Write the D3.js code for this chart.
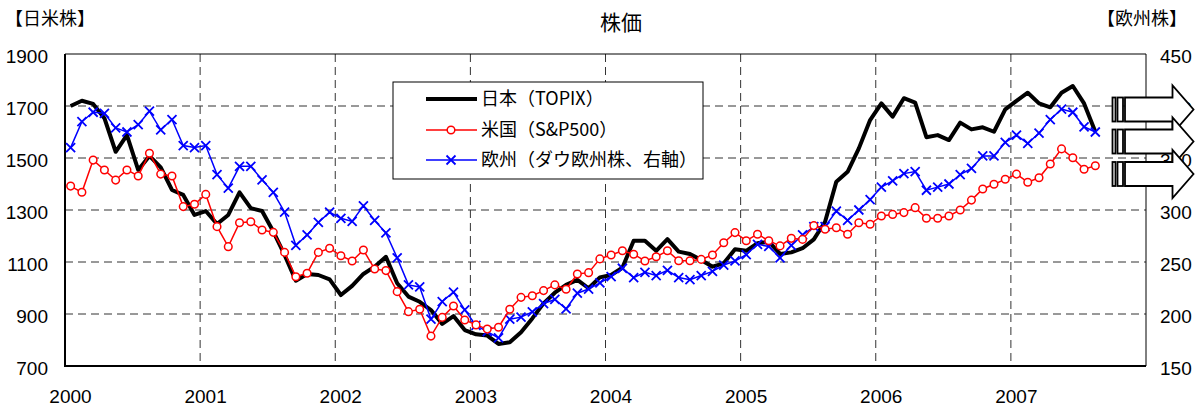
<!DOCTYPE html>
<html>
<head>
<meta charset="utf-8">
<title>株価</title>
<style>
  html, body { margin: 0; padding: 0; background: #fff; }
  svg { display: block; font-family: "Noto Sans CJK JP", "Noto Sans", sans-serif; }
</style>
</head>
<body>
<div id="chart"></div>
<script src="https://d3js.org/d3.v7.min.js"></script>
<script>
// 月末値 2000年1月〜2007年8月
const topix = [
  1700, 1720, 1708, 1653, 1524, 1588, 1454, 1508, 1464, 1377, 1358, 1281,
  1296, 1246, 1281, 1368, 1307, 1296, 1217, 1127, 1028, 1054, 1050, 1033,
  973, 1008, 1054, 1082, 1120, 1018, 967, 947, 915, 862, 892, 838,
  822, 817, 785, 791, 830, 883, 941, 982, 1012, 1031, 999, 1041,
  1050, 1078, 1182, 1182, 1143, 1188, 1140, 1131, 1108, 1082, 1095, 1149,
  1143, 1172, 1178, 1131, 1137, 1153, 1187, 1255, 1409, 1447, 1537, 1646,
  1710, 1659, 1730, 1713, 1580, 1588, 1569, 1636, 1610, 1618, 1601, 1687,
  1720, 1751, 1710, 1695, 1751, 1777, 1710, 1601
];
const sp500 = [
  1392, 1368, 1492, 1454, 1415, 1454, 1431, 1518, 1438, 1431, 1313, 1322,
  1360, 1236, 1159, 1251, 1255, 1223, 1214, 1137, 1043, 1057, 1137, 1153,
  1124, 1104, 1146, 1073, 1067, 986, 909, 918, 815, 887, 931, 877,
  858, 842, 849, 918, 964, 970, 990, 1012, 995, 1054, 1059, 1112,
  1127, 1143, 1130, 1104, 1120, 1143, 1105, 1105, 1110, 1127, 1174, 1213,
  1182, 1207, 1182, 1162, 1191, 1187, 1240, 1226, 1232, 1207, 1251, 1245,
  1277, 1283, 1290, 1309, 1268, 1268, 1277, 1300, 1338, 1381, 1399, 1418,
  1438, 1407, 1424, 1477, 1535, 1501, 1457, 1470
];
const europe = [
  360, 385, 394, 393, 379, 375, 382, 395, 377, 387, 362, 360,
  362, 334, 321, 342, 342, 329, 317, 298, 266, 276, 288, 298,
  292, 289, 304, 290, 278, 254, 228, 226, 195, 212, 221, 204,
  189, 183, 177, 195, 197, 202, 210, 214, 205, 220, 224, 230,
  236, 244, 235, 240, 237, 242, 235, 233, 237, 241, 247, 251,
  257, 267, 265, 254, 266, 276, 284, 284, 299, 290, 300, 310,
  322, 328, 335, 337, 319, 322, 325, 334, 340, 352, 352, 365,
  372, 364, 374, 387, 397, 394, 380, 375
];

const years = [2000, 2001, 2002, 2003, 2004, 2005, 2006, 2007];
const leftTicks = [700, 900, 1100, 1300, 1500, 1700, 1900];
const rightTicks = [150, 200, 250, 300, 350, 400, 450];
const legendLabels = ["日本（TOPIX）", "米国（S&P500）", "欧州（ダウ欧州株、右軸）"];

const width = 1203, height = 409;
const plotL = 65, plotR = 1146, plotT = 54, plotB = 366;

// 月の中央に配置
const monthPos = i => 2000 + (i + 0.5) / 12;

const x = d3.scaleLinear().domain([2000, 2008]).range([plotL, plotR]);
const yL = d3.scaleLinear().domain([700, 1900]).range([plotB, plotT]);
const yR = d3.scaleLinear().domain([150, 450]).range([plotB, plotT]);

const svg = d3.select('#chart').append('svg')
  .attr('width', width).attr('height', height);

// グリッド線
const grid = svg.append('g')
  .attr('stroke', '#333').attr('stroke-width', 1).attr('stroke-dasharray', '8,5');
grid.selectAll('line.h')
  .data(leftTicks.filter(v => v > 700 && v < 1900))
  .enter().append('line')
  .attr('x1', plotL).attr('x2', plotR)
  .attr('y1', d => yL(d)).attr('y2', d => yL(d));
grid.selectAll('line.v')
  .data(years.filter(v => v > 2000))
  .enter().append('line')
  .attr('y1', plotT).attr('y2', plotB)
  .attr('x1', d => x(d)).attr('x2', d => x(d));

// 枠
svg.append('line').attr('x1', plotL).attr('x2', plotR).attr('y1', plotT).attr('y2', plotT)
  .attr('stroke', '#000').attr('stroke-width', 1);
svg.append('line').attr('x1', plotR).attr('x2', plotR).attr('y1', plotT).attr('y2', plotB)
  .attr('stroke', '#000').attr('stroke-width', 1);

// 軸
const fmt = d3.format('d');
const axisLeft = svg.append('g')
  .attr('transform', `translate(${plotL},0)`)
  .call(d3.axisLeft(yL).tickValues(leftTicks).tickFormat(fmt).tickSize(0).tickPadding(17));
const axisRight = svg.append('g')
  .attr('transform', `translate(${plotR},0)`)
  .call(d3.axisRight(yR).tickValues(rightTicks).tickFormat(fmt).tickSize(0).tickPadding(14));
const axisBottom = svg.append('g')
  .attr('transform', `translate(0,${plotB})`)
  .call(d3.axisBottom(x).tickValues(years).tickFormat(fmt).tickSize(0).tickPadding(24));

[axisLeft, axisRight, axisBottom].forEach(a => {
  a.select('.domain').remove();
  a.selectAll('text')
    .style('font-family', '"Liberation Sans", Arial, sans-serif')
    .style('font-size', '19px')
    .attr('fill', '#000');
});
axisLeft.selectAll('text').attr('y', 2);
axisRight.selectAll('text').attr('y', 2);
axisBottom.selectAll('text').attr('dx', 5);

svg.append('line').attr('x1', plotL).attr('x2', plotL).attr('y1', plotT).attr('y2', plotB + 1)
  .attr('stroke', '#000').attr('stroke-width', 2);
svg.append('line').attr('x1', plotL).attr('x2', plotR).attr('y1', plotB).attr('y2', plotB)
  .attr('stroke', '#000').attr('stroke-width', 2);

// 系列
const lineL = d3.line().x((d, i) => x(monthPos(i))).y(d => yL(d));
const lineR = d3.line().x((d, i) => x(monthPos(i))).y(d => yR(d));

svg.append('path').datum(topix)
  .attr('d', lineL).attr('fill', 'none')
  .attr('stroke', '#000').attr('stroke-width', 4).attr('stroke-linejoin', 'round');

svg.append('path').datum(europe)
  .attr('d', lineR).attr('fill', 'none')
  .attr('stroke', '#0000ff').attr('stroke-width', 1.5);
svg.append('g').selectAll('path')
  .data(europe).enter().append('path')
  .attr('transform', (d, i) => `translate(${x(monthPos(i))},${yR(d)})`)
  .attr('d', 'M-4.5,-4.5L4.5,4.5M-4.5,4.5L4.5,-4.5')
  .attr('stroke', '#0000ff').attr('stroke-width', 1.8);

svg.append('path').datum(sp500)
  .attr('d', lineL).attr('fill', 'none')
  .attr('stroke', '#ff0000').attr('stroke-width', 1.5);
svg.append('g').selectAll('circle')
  .data(sp500).enter().append('circle')
  .attr('cx', (d, i) => x(monthPos(i))).attr('cy', d => yL(d))
  .attr('r', 3.8).attr('fill', '#fff')
  .attr('stroke', '#ff0000').attr('stroke-width', 1.5);

// 右端の矢印
const arrows = svg.append('g')
  .attr('fill', '#fff').attr('stroke', '#000').attr('stroke-width', 1.8);
[109.5, 141.5, 174].forEach(cy => {
  const a = arrows.append('g').attr('transform', `translate(0,${cy})`);
  a.append('rect').attr('x', 1112.5).attr('y', -12).attr('width', 3).attr('height', 24);
  a.append('rect').attr('x', 1117.5).attr('y', -12).attr('width', 5.5).attr('height', 24);
  a.append('path')
    .attr('d', 'M1125,-12H1172.5V-24L1193.5,0L1172.5,24V12H1125Z')
    .attr('stroke-linejoin', 'miter');
});

// 凡例
const legend = svg.append('g');
legend.append('rect')
  .attr('x', 393).attr('y', 82).attr('width', 310).attr('height', 97)
  .attr('fill', '#fff').attr('stroke', '#000').attr('stroke-width', 1);
const legendY = [99, 130, 160];
const li = legend.selectAll('g.item').data(legendLabels).enter().append('g')
  .attr('transform', (d, i) => `translate(0,${legendY[i]})`);
li.append('line').attr('x1', 426).attr('x2', 477)
  .attr('stroke', (d, i) => ['#000', '#ff0000', '#0000ff'][i])
  .attr('stroke-width', (d, i) => i === 0 ? 4 : 1.5);
li.filter((d, i) => i === 1).append('circle')
  .attr('cx', 451).attr('r', 3.8).attr('fill', '#fff')
  .attr('stroke', '#ff0000').attr('stroke-width', 1.5);
li.filter((d, i) => i === 2).append('path')
  .attr('transform', 'translate(451,0)')
  .attr('d', 'M-4.5,-4.5L4.5,4.5M-4.5,4.5L4.5,-4.5')
  .attr('stroke', '#0000ff').attr('stroke-width', 1.8);
li.append('text').attr('x', 481).attr('dy', '0.36em')
  .style('font-size', '18px').text(d => d);

// タイトル
svg.append('text').attr('x', 621).attr('y', 30).attr('text-anchor', 'middle')
  .style('font-size', '21px').text('株価');
svg.append('text').attr('x', 5).attr('y', 25)
  .style('font-size', '18px').text('【日米株】');
svg.append('text').attr('x', 1187).attr('y', 25).attr('text-anchor', 'end')
  .style('font-size', '18px').text('【欧州株】');
</script>
</body>
</html>
